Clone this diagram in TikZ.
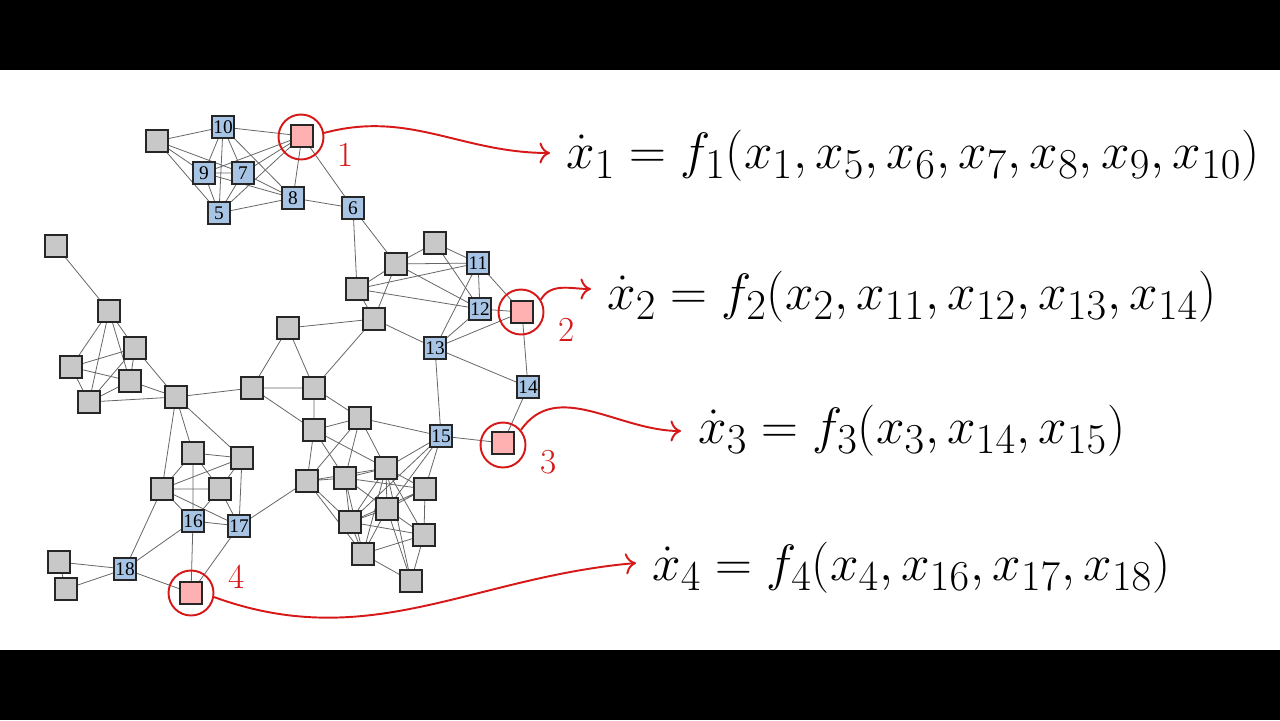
\documentclass[tikz,border=0pt]{standalone}
\usepackage{fontspec}
\usepackage{amsmath}
\usetikzlibrary{arrows.meta}
\newfontfamily\labelfont{Liberation Serif}
\definecolor{nodeblue}{RGB}{167,196,228}
\definecolor{nodegray}{RGB}{200,200,200}
\definecolor{nodepink}{RGB}{255,176,176}
\definecolor{markred}{RGB}{214,24,24}
\pgfdeclarelayer{background}
\pgfsetlayers{background,main}
\tikzset{
  box/.style = {draw = black!85, line width = 0.9pt, minimum size = 0.44cm, inner sep = 0pt},
  greybox/.style = {box, fill = nodegray},
  bluebox/.style = {box, fill = nodeblue, font = \labelfont\fontsize{11}{13}\selectfont},
  pinkbox/.style = {box, fill = nodepink},
  ring/.style = {circle, draw = markred, line width = 1.1pt, minimum size = 0.9cm, inner sep = 0pt},
  link/.style = {draw = black!60, line width = 0.45pt},
  pointer/.style = {draw = markred, line width = 1.1pt, -{Computer Modern Rightarrow[length = 6pt, width = 12pt]}},
  tag/.style = {text = markred, inner sep = 0pt, font = \fontsize{20}{24}\selectfont},
  eqn/.style = {anchor = west, inner sep = 0pt, font = \Huge, scale = 1.17}
}

\begin{document}
\begin{tikzpicture} [x = 0.02cm, y = -0.02cm]
\begin{pgfonlayer}{background}
\fill[black] (0, 0) rectangle (1280, 720);
\fill[white] (0, 70) rectangle (1280, 650);
\end{pgfonlayer}

% top group
\node[greybox] (g1) at (157, 141) {};
\node[bluebox] (n10) at (223, 127) {10};
\node[pinkbox] (n1) at (302, 136) {};
\node[bluebox] (n9) at (204, 173) {9};
\node[bluebox] (n7) at (243, 173) {7};
\node[bluebox] (n8) at (293, 198) {8};
\node[bluebox] (n5) at (219, 213) {5};
\node[bluebox] (n6) at (353, 208) {6};

% right group
\node[greybox] (ga) at (435, 243) {};
\node[greybox] (gb) at (396, 264) {};
\node[bluebox] (n11) at (478, 263) {11};
\node[greybox] (gc) at (357, 289) {};
\node[bluebox] (n12) at (480, 309) {12};
\node[pinkbox] (n2) at (522, 312) {};
\node[greybox] (gd) at (374, 319) {};
\node[bluebox] (n13) at (435, 348) {13};
\node[bluebox] (n14) at (528, 387) {14};

% middle group
\node[greybox] (ge) at (288, 328) {};
\node[greybox] (gg) at (252, 388) {};
\node[greybox] (gf) at (314, 388) {};
\node[greybox] (gh) at (314, 430) {};
\node[greybox] (gi) at (360, 418) {};
\node[bluebox] (n15) at (441, 436) {15};
\node[pinkbox] (n3) at (503, 443) {};
\node[greybox] (gj) at (307, 481) {};
\node[greybox] (gk) at (345, 478) {};
\node[greybox] (gl) at (386, 468) {};
\node[greybox] (gm) at (425, 489) {};
\node[greybox] (gn) at (387, 509) {};
\node[greybox] (go) at (350, 522) {};
\node[greybox] (gp) at (424, 535) {};
\node[greybox] (gq) at (363, 554) {};
\node[greybox] (gr) at (411, 581) {};

% left group
\node[greybox] (l0) at (56, 246) {};
\node[greybox] (l1) at (109, 311) {};
\node[greybox] (l2) at (135, 348) {};
\node[greybox] (l3) at (71, 367) {};
\node[greybox] (l4) at (130, 381) {};
\node[greybox] (l5) at (89, 402) {};
\node[greybox] (l6) at (176, 397) {};

% bottom group
\node[greybox] (ha) at (193, 453) {};
\node[greybox] (hb) at (242, 458) {};
\node[greybox] (hc) at (162, 489) {};
\node[greybox] (hd) at (220, 489) {};
\node[bluebox] (n16) at (193, 521) {16};
\node[bluebox] (n17) at (239, 526) {17};
\node[bluebox] (n18) at (125, 569) {18};
\node[greybox] (m1) at (59, 562) {};
\node[greybox] (m2) at (66, 589) {};
\node[pinkbox] (n4) at (191, 593) {};

\begin{pgfonlayer}{background}
\draw[link] (g1) -- (n10) (g1) -- (n9) (g1) -- (n7) (g1) -- (n5);
\draw[link] (n10) -- (n1) (n10) -- (n9) (n10) -- (n7) (n10) -- (n5) (n10) -- (n8);
\draw[link] (n9) -- (n7) (n9) -- (n5) (n9) -- (n1) (n9) -- (n8);
\draw[link] (n7) -- (n1) (n7) -- (n5) (n7) -- (n8);
\draw[link] (n5) -- (n8) (n5) -- (n1) (n1) -- (n8) (n1) -- (n6) (n8) -- (n6);
\draw[link] (n6) -- (gc) (n6) -- (gb);
\draw[link] (ga) -- (gb) (ga) -- (n11) (ga) -- (n12);
\draw[link] (gb) -- (n11) (gb) -- (gc) (gb) -- (n12) (gb) -- (gd);
\draw[link] (gc) -- (n11) (gc) -- (n12) (gc) -- (gd);
\draw[link] (n11) -- (n12) (n11) -- (n2) (n11) -- (n13);
\draw[link] (n12) -- (n2) (n12) -- (n13) (n2) -- (n13) (n2) -- (n14);
\draw[link] (n13) -- (gd) (n13) -- (n14) (n13) -- (n15);
\draw[link] (gd) -- (ge) (gd) -- (gf) (n14) -- (n3) (n15) -- (n3);
\draw[link] (ge) -- (gg) (ge) -- (gf) (gg) -- (gf) (gg) -- (l6) (gg) -- (gh);
\draw[link] (gf) -- (gh) (gf) -- (gi);
\draw[link] (gh) -- (gi) (gh) -- (gj) (gh) -- (gk) (gh) -- (gl);
\draw[link] (gi) -- (n15) (gi) -- (gj) (gi) -- (gk) (gi) -- (gl);
\draw[link] (n15) -- (gl) (n15) -- (gm) (n15) -- (gn) (n15) -- (go);
\draw[link] (gj) -- (gk) (gj) -- (gl) (gj) -- (go) (gj) -- (gq) (gj) -- (n17);
\draw[link] (gk) -- (gl) (gk) -- (gm) (gk) -- (gn) (gk) -- (go) (gk) -- (gq);
\draw[link] (gl) -- (gm) (gl) -- (gn) (gl) -- (go) (gl) -- (gp) (gl) -- (gq) (gl) -- (gr);
\draw[link] (gm) -- (gn) (gm) -- (gp) (gm) -- (go);
\draw[link] (gn) -- (go) (gn) -- (gp) (gn) -- (gq) (gn) -- (gr);
\draw[link] (go) -- (gp) (go) -- (gq) (gq) -- (gp) (gq) -- (gr) (gp) -- (gr);
\draw[link] (l0) -- (l1) (l1) -- (l2) (l1) -- (l3) (l1) -- (l4) (l1) -- (l5);
\draw[link] (l2) -- (l3) (l2) -- (l4) (l2) -- (l5) (l2) -- (l6);
\draw[link] (l3) -- (l4) (l3) -- (l5) (l4) -- (l5) (l4) -- (l6) (l5) -- (l6);
\draw[link] (l6) -- (ha) (l6) -- (hb) (l6) -- (hc);
\draw[link] (ha) -- (hb) (ha) -- (hc) (ha) -- (hd) (ha) -- (n16);
\draw[link] (hb) -- (hc) (hb) -- (hd) (hb) -- (n17);
\draw[link] (hc) -- (hd) (hc) -- (n16) (hc) -- (n17) (hc) -- (n18);
\draw[link] (hd) -- (n16) (hd) -- (n17);
\draw[link] (n16) -- (n17) (n16) -- (n18) (n16) -- (n4) (n17) -- (n4);
\draw[link] (n18) -- (m1) (n18) -- (m2) (n18) -- (n4) (m1) -- (m2);
\end{pgfonlayer}

% marked nodes
\node[ring] (c1) at (301, 137) {};
\node[ring] (c2) at (521, 312) {};
\node[ring] (c3) at (503, 445) {};
\node[ring] (c4) at (191, 593) {};
\node[tag] (t1) at (346, 155) {1};
\node[tag] (t2) at (567, 330) {2};
\node[tag] (t3) at (549, 462) {3};
\node[tag] (t4) at (237, 577) {4};

% equations
\node[eqn] (e1) at (566, 156) {$\dot{x}_1 = f_1(x_1, x_5, x_6, x_7, x_8, x_9, x_{10})$};
\node[eqn] (e2) at (607, 297) {$\dot{x}_2 = f_2(x_2, x_{11}, x_{12}, x_{13}, x_{14})$};
\node[eqn] (e3) at (698, 431) {$\dot{x}_3 = f_3(x_3, x_{14}, x_{15})$};
\node[eqn] (e4) at (652, 568) {$\dot{x}_4 = f_4(x_4, x_{16}, x_{17}, x_{18})$};

\draw[pointer] (c1.10) to[out = 15, in = 180] ([xshift = -0.32cm, yshift = 0.06cm] e1.west);
\draw[pointer] (c2.32) to[out = 60, in = 180] ([xshift = -0.32cm, yshift = 0.16cm] e2.west);
\draw[pointer] (c3.40) to[out = 55, in = 180] ([xshift = -0.34cm] e3.west);
\draw[pointer] (c4.-10) to[out = -20, in = 185] ([xshift = -0.32cm, yshift = 0.1cm] e4.west);
\end{tikzpicture}
\end{document}
